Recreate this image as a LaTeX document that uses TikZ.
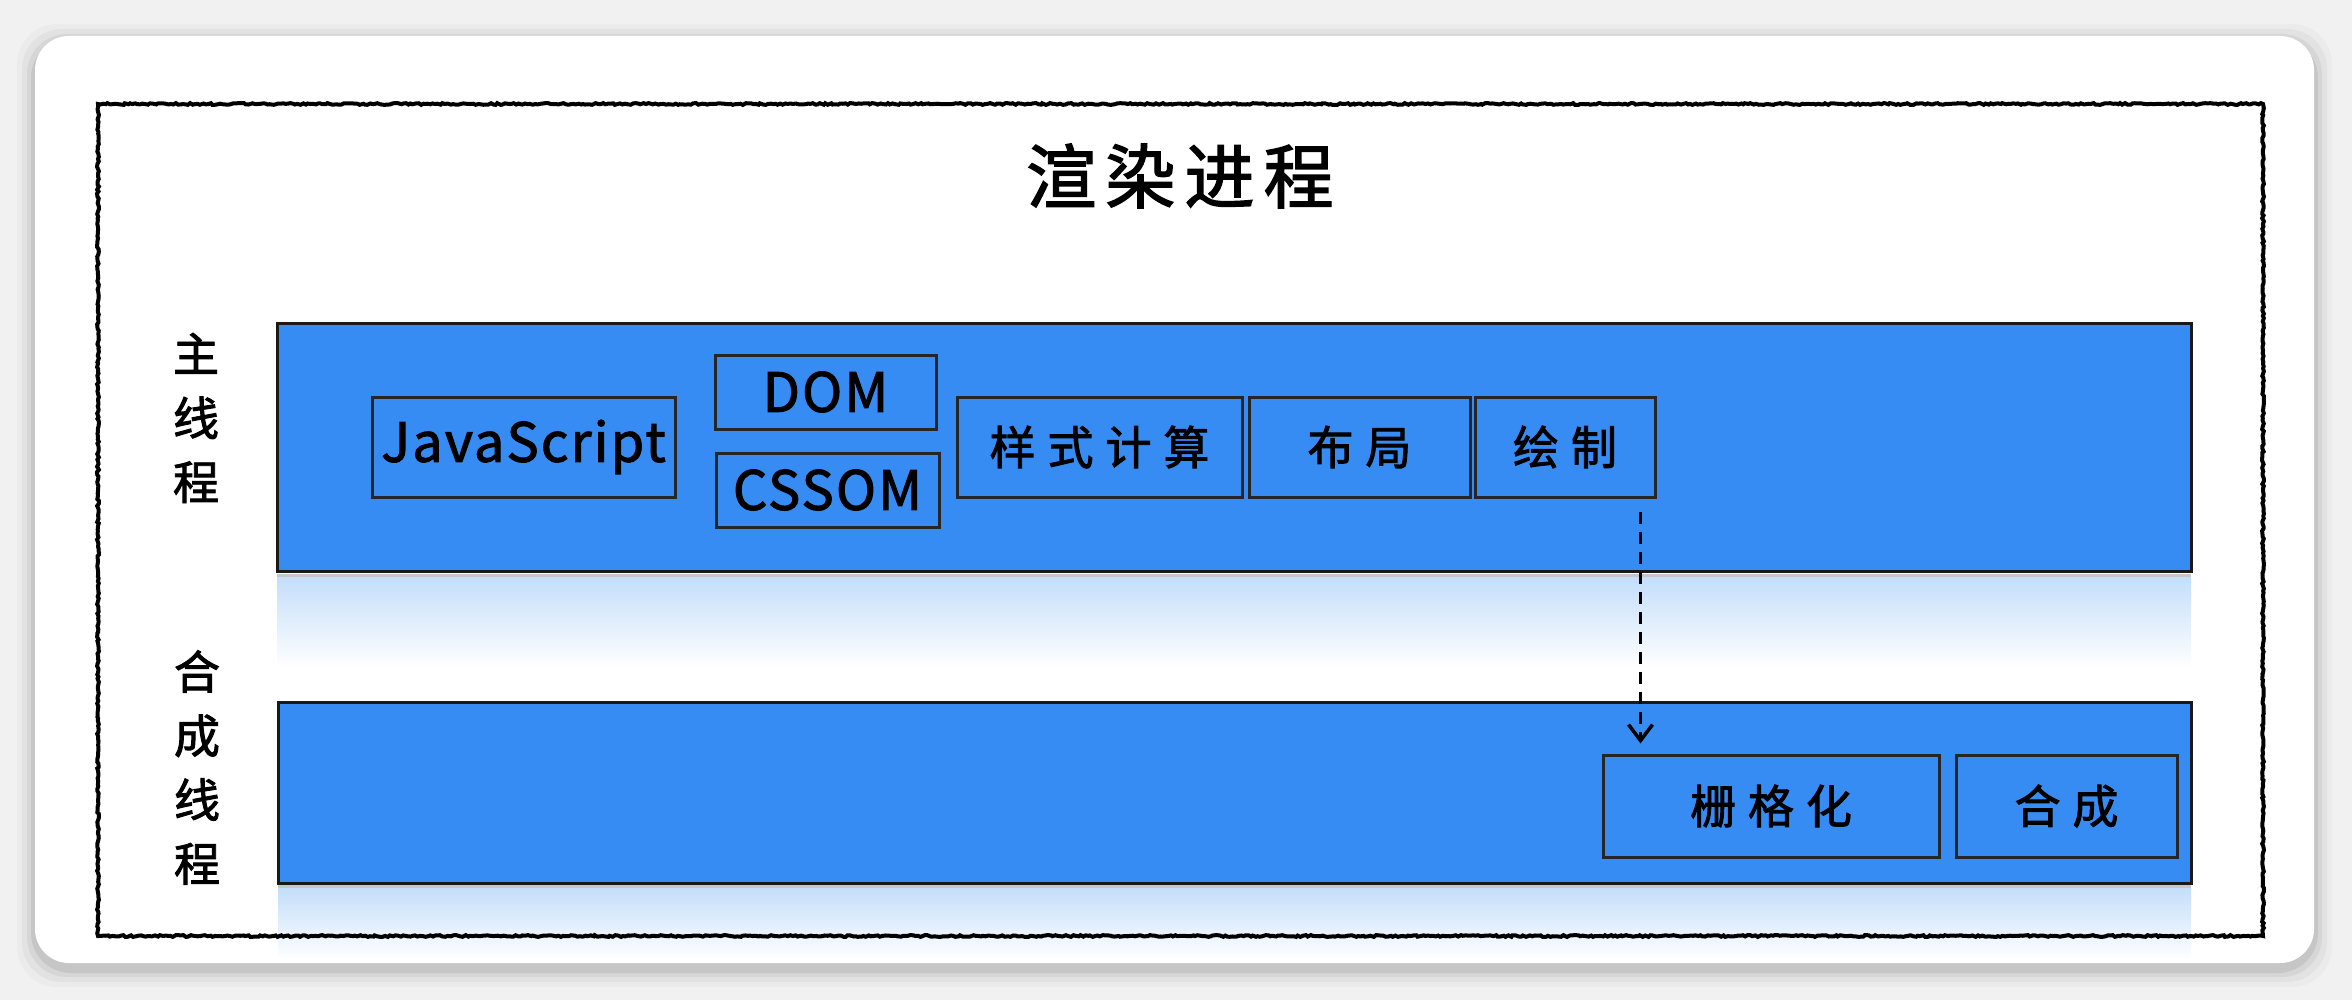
\documentclass[tikz,border=0pt]{standalone}
\usepackage{fontspec}
\setmainfont{Noto Sans CJK SC}
\usetikzlibrary{decorations.pathmorphing,calc,arrows.meta}
\definecolor{barblue}{RGB}{55,140,244}
\definecolor{refl}{RGB}{196,222,250}
\definecolor{pagebg}{RGB}{241,241,241}
\tikzset{
  stepbox/.style={draw=black!85, line width=3pt, fill=barblue, inner sep=0pt,
    font=\fontsize{46}{46}\selectfont\addfontfeature{LetterSpace=26,FakeBold=2}},
  latinbox/.style={draw=black!85, line width=3pt, fill=barblue, inner sep=0pt,
    font=\fontsize{54}{54}\selectfont\addfontfeature{LetterSpace=4,FakeBold=2}},
  bar/.style={draw=black!90, line width=3pt, fill=barblue, inner sep=0pt},
  lane/.style={align=center, inner sep=0pt, font=\fontsize{46}{64}\selectfont\addfontfeature{FakeBold=2}},
  flowarrow/.style={line width=3.5pt, dash pattern=on 12pt off 8pt,
    -{Straight Barb[length=16pt,width=24pt,line width=3.5pt]}},
  reflect/.style={top color=refl, bottom color=white},
}
\begin{document}
\begin{tikzpicture}[x=1pt,y=-1pt]
\useasboundingbox (0,0) rectangle (2352,1000);
\fill[pagebg] (0,0) rectangle (2352,1000);
% card with soft shadow
\foreach \i/\o in {18/0.025,13/0.035,8/0.05,4/0.07}{
  \fill[black, opacity=\o, rounded corners=40pt] (35-\i,42-\i) rectangle (2314+\i,969+\i);
}
\fill[white, rounded corners=34pt] (35,36) rectangle (2314,963);
% reflections
\shade[reflect] (277,577) rectangle (2191,668);
\draw[black!22, line width=3pt] (277,575.5) -- (2191,575.5);
\shade[reflect] (278,888) rectangle (2191,960);
\draw[black!22, line width=3pt] (278,886.5) -- (2191,886.5);
% sketchy frame
\pgfmathsetseed{7}
\draw[line width=4pt, decorate, decoration={random steps, segment length=2.5pt, amplitude=0.9pt}]
  (98,104) rectangle (2263,936);
% title
\node[font=\fontsize{70}{70}\selectfont\addfontfeature{LetterSpace=13,FakeBold=2}] (title) at (1180,176) {渲染进程};
% bars
\node[bar, minimum width=1914pt, minimum height=248pt] (mainbar) at (1234,447) {};
\node[bar, minimum width=1913pt, minimum height=181pt] (compbar) at (1234.5,792.5) {};
% lane labels
\node[lane] (mainlbl) at (196,418) {主\\线\\程};
\node[lane] (complbl) at (197,767.5) {合\\成\\线\\程};
% main thread boxes
\node[latinbox, minimum width=303pt, minimum height=100pt] (js) at (523.5,447) {JavaScript};
\node[latinbox, minimum width=221pt, minimum height=74pt] (dom) at (825.5,392) {DOM};
\node[latinbox, minimum width=223pt, minimum height=74pt] (cssom) at (827.5,490) {CSSOM};
\node[stepbox, minimum width=285pt, minimum height=100pt] (style) at (1099.5,447) {样式计算};
\node[stepbox, minimum width=221pt, minimum height=100pt] (layout) at (1359.5,447) {布局};
\node[stepbox, minimum width=180pt, minimum height=100pt] (paint) at (1565,447) {绘制};
% compositor boxes
\node[stepbox, minimum width=336pt, minimum height=102pt] (raster) at (1771,806) {栅格化};
\node[stepbox, minimum width=221pt, minimum height=102pt] (comp) at (2066.5,806) {合成};
% arrow
\coordinate (a1) at ($(paint.south east)+(-16,13)$);
\coordinate (a2) at ($(a1 |- raster.north)+(0,-10)$);
\draw[flowarrow] (a1) -- (a2);
\end{tikzpicture}
\end{document}
